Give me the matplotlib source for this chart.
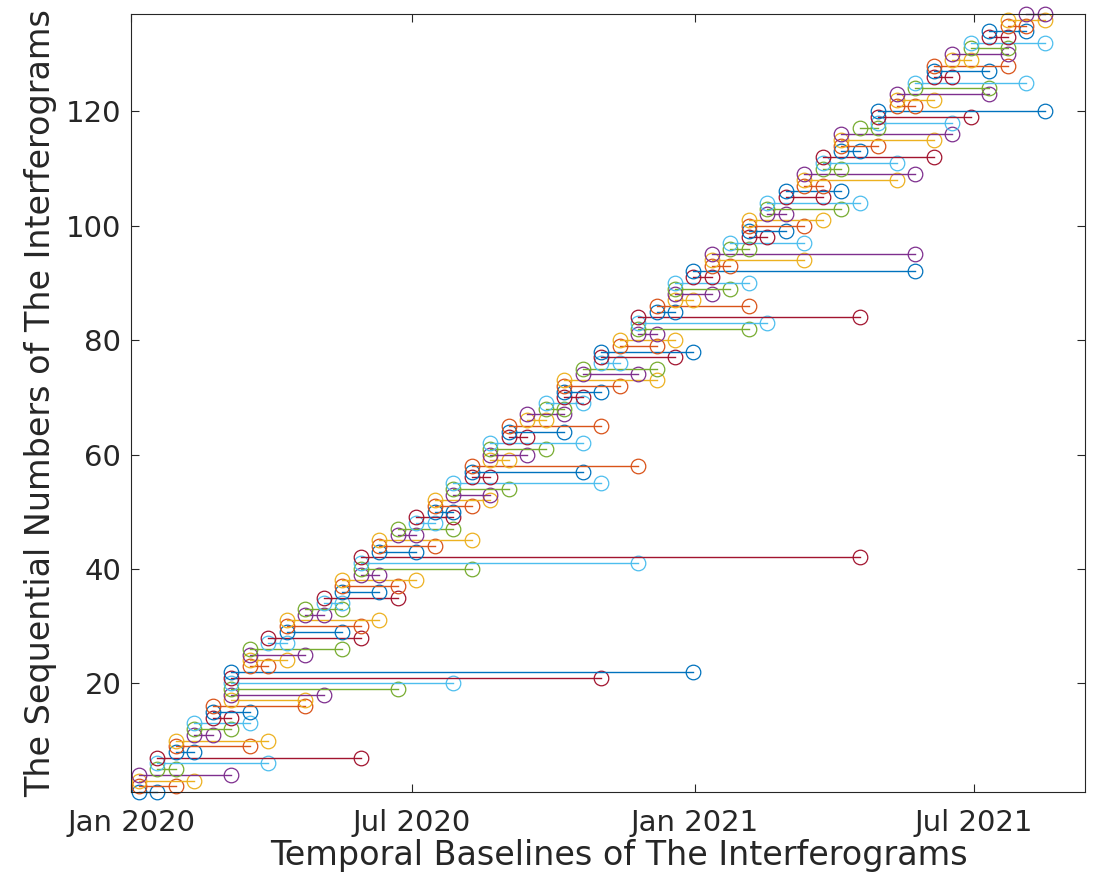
import numpy as np
import matplotlib
matplotlib.use('Agg')
from matplotlib import pyplot as plt
import matplotlib.dates as mdates
from datetime import datetime

# SAR acquisition dates (12-day repeat)
acq_dates = [
    '2020-01-06', '2020-01-18', '2020-01-30', '2020-02-11', '2020-02-23',
    '2020-03-06', '2020-03-18', '2020-03-30', '2020-04-11', '2020-04-23',
    '2020-05-05', '2020-05-17', '2020-05-29', '2020-06-10', '2020-06-22',
    '2020-07-04', '2020-07-16', '2020-07-28', '2020-08-09', '2020-08-21',
    '2020-09-02', '2020-09-14', '2020-09-26', '2020-10-08', '2020-10-20',
    '2020-11-01', '2020-11-13', '2020-11-25', '2020-12-07', '2020-12-19',
    '2020-12-31', '2021-01-12', '2021-01-24', '2021-02-05', '2021-02-17',
    '2021-03-01', '2021-03-13', '2021-03-25', '2021-04-06', '2021-04-18',
    '2021-04-30', '2021-05-12', '2021-05-24', '2021-06-05', '2021-06-17',
    '2021-06-29', '2021-07-11', '2021-07-23', '2021-08-04', '2021-08-16',
]

# interferogram pairs: index of master / slave acquisition
master_idx = [
    0, 0, 0, 0, 1, 1, 1, 2, 2, 2, 3, 3, 3, 4, 4, 4, 5, 5, 5, 5,
    5, 5, 6, 6, 6, 6, 7, 7, 8, 8, 8, 9, 9, 10, 10, 11, 11, 11, 12, 12,
    12, 12, 13, 13, 13, 14, 14, 15, 15, 16, 16, 16, 17, 17, 17, 18, 18, 18, 19, 19,
    19, 19, 20, 20, 20, 21, 21, 22, 22, 23, 23, 23, 23, 24, 24, 25, 25, 25, 26, 26,
    27, 27, 27, 27, 28, 28, 29, 29, 29, 29, 30, 30, 31, 31, 31, 32, 32, 33, 33, 33,
    33, 34, 34, 34, 35, 35, 36, 36, 36, 37, 37, 37, 38, 38, 38, 38, 39, 40, 40, 40,
    41, 41, 41, 42, 42, 43, 43, 43, 44, 44, 45, 45, 46, 46, 47, 47, 48,
]
slave_idx = [
    1, 2, 3, 5, 2, 7, 12, 3, 6, 7, 4, 5, 6, 5, 6, 9, 9, 10, 14, 17,
    25, 30, 7, 8, 9, 11, 8, 12, 11, 12, 13, 10, 11, 11, 14, 13, 14, 15, 13, 18,
    27, 39, 15, 16, 18, 15, 17, 16, 17, 17, 18, 19, 19, 20, 25, 19, 24, 27, 20, 21,
    22, 24, 21, 23, 25, 22, 23, 23, 24, 24, 25, 26, 28, 27, 28, 26, 29, 30, 28, 29,
    28, 33, 34, 39, 29, 33, 30, 31, 32, 33, 31, 42, 32, 36, 42, 33, 36, 34, 35, 36,
    37, 35, 38, 39, 37, 38, 37, 41, 42, 38, 41, 43, 39, 40, 43, 44, 40, 44, 45, 49,
    42, 43, 46, 46, 48, 44, 46, 47, 45, 47, 47, 49, 47, 48, 48, 49, 49,
]

# MATLAB default colour order
colors = ['#0072BD', '#D95319', '#EDB120', '#7E2F8E', '#77AC30', '#4DBEEE', '#A2142F']

dates = [datetime.strptime(d, '%Y-%m-%d') for d in acq_dates]

fig = plt.figure(figsize=(11.04, 8.81), dpi=100)
ax = fig.add_axes([0.1187, 0.101, 0.864, 0.883])

for i, (m, s) in enumerate(zip(master_idx, slave_idx)):
    ax.plot([dates[m], dates[s]], [i + 1, i + 1], '-o', color=colors[i % 7],
            lw=1.0, markersize=10.5, mfc='none', mew=0.9, clip_on=False)

ax.set_xlim(datetime(2020, 1, 1), datetime(2021, 9, 11))
ax.set_ylim(1, 137)
ax.set_xticks([datetime(2020, 1, 1), datetime(2020, 7, 1), datetime(2021, 1, 1), datetime(2021, 7, 1)])
ax.xaxis.set_major_formatter(mdates.DateFormatter('%b %Y'))
ax.set_yticks([20, 40, 60, 80, 100, 120])

tc = '#262626'
ax.tick_params(direction='in', length=6, width=0.8, top=True, right=True,
               labelsize=21, colors=tc)
ax.tick_params(axis='x', pad=12)
ax.tick_params(axis='y', pad=7)
for sp in ax.spines.values():
    sp.set_color(tc)
    sp.set_linewidth(0.8)

ax.set_xlabel('Temporal Baselines of The Interferograms', fontsize=24, color=tc, labelpad=4)
ax.xaxis.set_label_coords(0.512, -0.06)
ax.set_ylabel('The Sequential Numbers of The Interferograms', fontsize=24, color=tc, labelpad=6)

fig.savefig('out.png', dpi=100)
